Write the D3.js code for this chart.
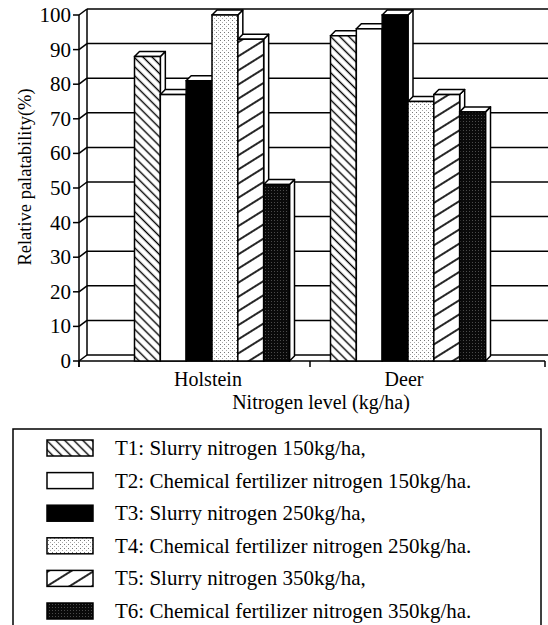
<!DOCTYPE html>
<html><head><meta charset="utf-8">
<script src="https://cdn.jsdelivr.net/npm/d3@7"></script>
<style>
body{margin:0;background:#fff}
text{font-family:"Liberation Serif","Times New Roman",serif;fill:#000}
</style>
</head><body><svg id="c" width="548" height="625"></svg>
<script>
// ---- data ----
const categories = ["Holstein", "Deer"];
const seriesNames = ["T1", "T2", "T3", "T4", "T5", "T6"];
const legendLabels = [
  "T1: Slurry nitrogen 150kg/ha,",
  "T2: Chemical fertilizer nitrogen 150kg/ha.",
  "T3: Slurry nitrogen 250kg/ha,",
  "T4: Chemical fertilizer nitrogen 250kg/ha.",
  "T5: Slurry nitrogen 350kg/ha,",
  "T6: Chemical fertilizer nitrogen 350kg/ha."
];
const holsteinValues = [88, 77, 81, 100, 93, 51];
const deerValues = [94, 96, 100, 75, 77, 72];
const yTickValues = [0, 10, 20, 30, 40, 50, 60, 70, 80, 90, 100];
const yTitle = "Relative palatability(%)";
const xTitle = "Nitrogen level (kg/ha)";

const valuesByCategory = {Holstein: holsteinValues, Deer: deerValues};

// ---- layout ----
const svg = d3.select("#c");
const plotLeft = 79, plotRight = 545;
const wallDx = 8, wallDy = -6;   // depth offset of back wall
const barDx = 5, barDy = -5;     // depth offset of bar boxes

const y = d3.scaleLinear().domain([0, 100]).range([361, 15]);
const xCat = d3.scaleBand().domain(categories).range([114, 506]);
const xSer = d3.scaleBand().domain(seriesNames)
  .range([20.5, xCat.bandwidth() - 20.5]);

// ---- patterns ----
const defs = svg.append("defs");
function hatch(id, size, angle, sw) {
  const p = defs.append("pattern").attr("id", id)
    .attr("patternUnits", "userSpaceOnUse")
    .attr("width", size).attr("height", size)
    .attr("patternTransform", `rotate(${angle})`);
  p.append("rect").attr("width", size).attr("height", size).attr("fill", "#fff");
  p.append("line").attr("x1", 0).attr("x2", size).attr("y1", size / 2).attr("y2", size / 2)
    .attr("stroke", "#000").attr("stroke-width", sw);
}
hatch("p1", 6.4, 45, 1.4);
hatch("p5", 12, -32, 1.7);
(function () {
  const p = defs.append("pattern").attr("id", "p4")
    .attr("patternUnits", "userSpaceOnUse").attr("width", 4).attr("height", 4);
  p.append("rect").attr("width", 4).attr("height", 4).attr("fill", "#fff");
  p.append("rect").attr("x", 0).attr("y", 0).attr("width", 1).attr("height", 1).attr("fill", "#777");
  p.append("rect").attr("x", 2).attr("y", 2).attr("width", 1).attr("height", 1).attr("fill", "#aaa");
  const q = defs.append("pattern").attr("id", "p6")
    .attr("patternUnits", "userSpaceOnUse").attr("width", 3).attr("height", 3);
  q.append("rect").attr("width", 3).attr("height", 3).attr("fill", "#0a0a0a");
  q.append("rect").attr("x", 1).attr("y", 1).attr("width", 1).attr("height", 1).attr("fill", "#4a4a4a");
})();
const fills = {T1: "url(#p1)", T2: "#fff", T3: "#000", T4: "url(#p4)", T5: "url(#p5)", T6: "url(#p6)"};

const line = (x1, y1, x2, y2, w) => svg.append("line")
  .attr("x1", x1).attr("y1", y1).attr("x2", x2).attr("y2", y2)
  .attr("stroke", "#000").attr("stroke-width", w || 1.5);

// ---- walls / grid ----
yTickValues.forEach(v => {
  line(plotLeft + wallDx, y(v) + wallDy, 560, y(v) + wallDy, 1.5);
  line(plotLeft, y(v), plotLeft + wallDx, y(v) + wallDy, 1.5);
  line(plotLeft - 6, y(v), plotLeft, y(v), 1.5);
});
line(plotLeft + wallDx, y(100) + wallDy, plotLeft + wallDx, y(0) + wallDy, 1.5);
line(plotLeft, y(100), plotLeft, y(0) + 6, 1.5);

// floor front edge & category ticks
line(plotLeft, y(0), plotRight, y(0), 1.5);
const xTickPos = [plotLeft, xCat(categories[1]), plotRight];
xTickPos.forEach(px => line(px, y(0), px, y(0) + 6, 1.5));

// y tick labels
svg.append("g").selectAll("text").data(yTickValues).join("text")
  .attr("x", plotLeft - 8).attr("y", d => y(d) + 7)
  .attr("text-anchor", "end").attr("font-size", 21).text(d => d);

// ---- bars ----
categories.forEach(cat => {
  const vals = valuesByCategory[cat];
  seriesNames.forEach((s, i) => {
    const x0 = xCat(cat) + xSer(s), w = xSer.bandwidth();
    const yt = y(vals[i]), yb = y(0);
    const g = svg.append("g");
    g.append("path")
      .attr("d", `M${x0 + w},${yt} L${x0 + w + barDx},${yt + barDy} L${x0 + w + barDx},${yb + barDy} L${x0 + w},${yb} Z`)
      .attr("fill", "#fff").attr("stroke", "#000").attr("stroke-width", 1.5).attr("stroke-linejoin", "round");
    g.append("path")
      .attr("d", `M${x0},${yt} L${x0 + barDx},${yt + barDy} L${x0 + w + barDx},${yt + barDy} L${x0 + w},${yt} Z`)
      .attr("fill", "#fff").attr("stroke", "#000").attr("stroke-width", 1.5).attr("stroke-linejoin", "round");
    g.append("rect").attr("x", x0).attr("y", yt).attr("width", w).attr("height", yb - yt)
      .attr("fill", fills[s]).attr("stroke", "#000").attr("stroke-width", 1.5);
  });
});

// ---- axis labels ----
svg.append("g").selectAll("text").data(categories).join("text")
  .attr("x", d => xCat(d) + xCat.bandwidth() / 2 - 4).attr("y", 386)
  .attr("text-anchor", "middle").attr("font-size", 20).text(d => d);
svg.append("text").attr("x", 321).attr("y", 409).attr("text-anchor", "middle")
  .attr("font-size", 20).text(xTitle);
svg.append("text").attr("transform", "translate(31,177) rotate(-90)")
  .attr("text-anchor", "middle").attr("font-size", 18.5).text(yTitle);

// ---- legend ----
svg.append("rect").attr("x", 13).attr("y", 429).attr("width", 528).attr("height", 260)
  .attr("fill", "none").attr("stroke", "#000").attr("stroke-width", 1.5);
const rowY = i => 448 + i * 32.6;
const lg = svg.append("g").selectAll("g").data(seriesNames).join("g");
lg.append("rect").attr("x", 47).attr("y", (d, i) => rowY(i) - 8).attr("width", 46).attr("height", 16)
  .attr("fill", d => fills[d]).attr("stroke", "#000").attr("stroke-width", 1.5);
lg.append("text").attr("x", 115).attr("y", (d, i) => rowY(i) + 7).attr("font-size", 21)
  .text((d, i) => legendLabels[i]);
</script>
</body></html>
